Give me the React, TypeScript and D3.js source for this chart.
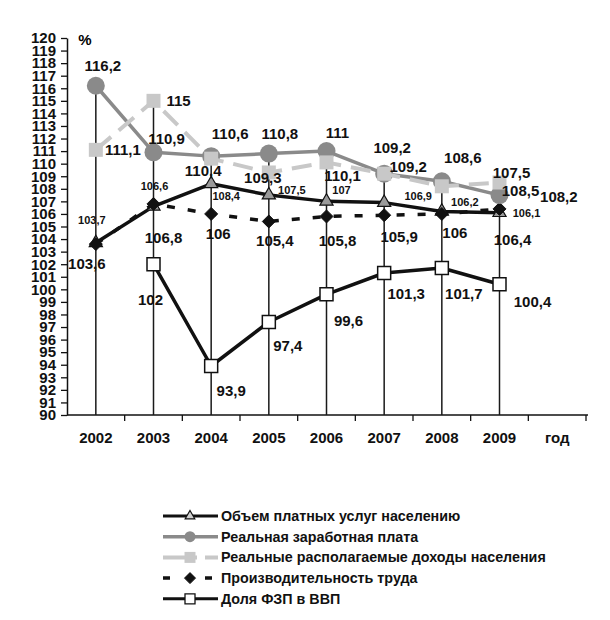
import React, { useEffect, useRef } from 'react';
import * as d3 from 'd3';

// years on the x axis, the last band holds the axis caption
const years = ['2002', '2003', '2004', '2005', '2006', '2007', '2008', '2009'];
const axisCaption = 'год';

const paidServices = [103.7, 106.6, 108.4, 107.5, 107, 106.9, 106.2, 106.1];
const realWages = [116.2, 110.9, 110.6, 110.8, 111, 109.2, 108.6, 107.5];
const realIncomes = [111.1, 115, 110.4, 109.3, 110.1, 109.2, 108.2, 108.5];
const productivity = [103.6, 106.8, 106, 105.4, 105.8, 105.9, 106, 106.4];
const wageShare: (number | null)[] = [null, 102, 93.9, 97.4, 99.6, 101.3, 101.7, 100.4];

const legendNames = [
  'Объем платных услуг населению',
  'Реальная заработная плата',
  'Реальные располагаемые доходы населения',
  'Производительность труда',
  'Доля ФЗП в ВВП',
];

// label offsets from the point (px)
const servicesOff = [[-4, -23], [1, -20], [15, 12], [23, -5], [15, -11], [34, -7], [23, -9], [27, 0]];
const wagesOff = [[7, -20], [13, -14], [19, -23], [11, -20], [11, -19], [8, -26], [21, -24], [12, -23]];
const incomesOff = [[27, 0], [25, 0], [-8, 12], [-6, 5], [16, 13], [24, -7], [117, 10], [21, 8]];
const productivityOff = [[-9, 19], [10, 34], [7, 20], [6, 19], [11, 24], [15, 21], [13, 19], [13, 31]];
const shareOff = [[0, 0], [-3, 35], [20, 25], [19, 23], [22, 26], [22, 21], [22, 26], [33, 17]];

const FONT = 'Arial, "Liberation Sans", sans-serif';

const fmt = (v: number) => String(v).replace('.', ',');

const square = (h: number) => `M${-h},${-h}H${h}V${h}H${-h}Z`;
const diamond = (h: number) => `M0,${-h}L${h},0L0,${h}L${-h},0Z`;

export default function App() {
  const svgRef = useRef<SVGSVGElement>(null);

  useEffect(() => {
    if (!svgRef.current) return;
    const svg = d3.select(svgRef.current);
    svg.selectAll('*').remove();

    const x = d3.scaleBand<string>().domain([...years, axisCaption]).range([67, 586]).padding(0);
    const y = d3.scaleLinear().domain([90, 120]).range([415, 38]);
    const cx = (i: number) => (x(years[i]) as number) + x.bandwidth() / 2;

    svg.append('rect').attr('width', 610).attr('height', 620).attr('fill', '#fff');

    // y axis
    const yAxis = svg.append('g')
      .attr('transform', 'translate(67,0)')
      .call(d3.axisLeft(y).tickValues(d3.range(90, 121)).tickSize(6).tickPadding(5).tickSizeOuter(0));
    yAxis.select('.domain').attr('stroke', '#111').attr('stroke-width', 1.5);
    yAxis.selectAll('.tick line').attr('stroke', '#111').attr('stroke-width', 1.3);
    yAxis.selectAll('.tick text')
      .attr('font-family', FONT).attr('font-size', 15).attr('font-weight', 'bold').attr('fill', '#111');

    svg.append('text').attr('x', 85).attr('y', 45).attr('text-anchor', 'middle')
      .attr('font-family', FONT).attr('font-size', 15).attr('font-weight', 'bold').text('%');

    // x axis
    svg.append('line').attr('x1', 67).attr('x2', 588).attr('y1', 415).attr('y2', 415)
      .attr('stroke', '#111').attr('stroke-width', 1.5);
    x.domain().forEach((d) => {
      const bx = (x(d) as number) + x.bandwidth();
      svg.append('line').attr('x1', bx).attr('x2', bx).attr('y1', 415).attr('y2', 421)
        .attr('stroke', '#111').attr('stroke-width', 1.3);
      svg.append('text').attr('x', bx - x.bandwidth() / 2).attr('y', 443).attr('text-anchor', 'middle')
        .attr('font-family', FONT).attr('font-size', 15).attr('font-weight', 'bold').attr('fill', '#111')
        .text(d);
    });

    // drop lines
    years.forEach((_, i) => {
      const top = d3.max([paidServices[i], realWages[i], realIncomes[i], productivity[i], wageShare[i] ?? 0]) as number;
      svg.append('line').attr('x1', cx(i)).attr('x2', cx(i)).attr('y1', y(top)).attr('y2', 415)
        .attr('stroke', '#1a1a1a').attr('stroke-width', 1.5);
    });

    const line = d3.line<number | null>()
      .defined((d) => d != null)
      .x((_, i) => cx(i))
      .y((d) => y(d as number));

    const drawLine = (vals: (number | null)[], color: string, width: number, dash?: string) => {
      svg.append('path').datum(vals).attr('d', line as any).attr('fill', 'none')
        .attr('stroke', color).attr('stroke-width', width)
        .attr('stroke-dasharray', dash || null).attr('stroke-linejoin', 'round');
    };

    const sym = (type: d3.SymbolType, size: number) => d3.symbol().type(type).size(size)() as string;

    const drawMarks = (vals: (number | null)[], path: string, fill: string, stroke: string, sw: number) => {
      vals.forEach((v, i) => {
        if (v == null) return;
        svg.append('path').attr('d', path).attr('transform', `translate(${cx(i)},${y(v)})`)
          .attr('fill', fill).attr('stroke', stroke).attr('stroke-width', sw);
      });
    };

    const drawLabels = (vals: (number | null)[], off: number[][], size: number) => {
      vals.forEach((v, i) => {
        if (v == null) return;
        svg.append('text').attr('x', cx(i) + off[i][0]).attr('y', y(v) + off[i][1])
          .attr('text-anchor', 'middle').attr('dominant-baseline', 'central')
          .attr('font-family', FONT).attr('font-size', size).attr('font-weight', 'bold').attr('fill', '#111')
          .text(fmt(v));
      });
    };

    // Доля ФЗП в ВВП
    drawLine(wageShare, '#111', 3.5);
    drawMarks(wageShare, square(6.5), '#fff', '#111', 1.5);

    // Объем платных услуг
    drawLine(paidServices, '#111', 3.5);
    drawMarks(paidServices, sym(d3.symbolTriangle, 75), '#9a9a9a', '#111', 1.2);

    // Производительность труда
    drawLine(productivity, '#111', 3.5, '8 13');
    drawMarks(productivity, diamond(6.5), '#111', '#111', 1);

    // Реальная заработная плата
    drawLine(realWages, '#8a8a8a', 3.5);
    drawMarks(realWages, sym(d3.symbolCircle, Math.PI * 81), '#8a8a8a', 'none', 0);

    // Реальные располагаемые доходы
    drawLine(realIncomes, '#c8c8c8', 4, '20 10');
    drawMarks(realIncomes, square(7), '#c8c8c8', 'none', 0);

    drawLabels(realWages, wagesOff, 15);
    drawLabels(realIncomes, incomesOff, 15);
    drawLabels(productivity, productivityOff, 15);
    drawLabels(wageShare, shareOff, 15);
    drawLabels(paidServices, servicesOff, 11);

    // legend
    const lg = svg.append('g');
    const ly = (i: number) => 516 + i * 20.7;
    const lx1 = 163, lx2 = 218, mx = 190;
    const legendStyle = [
      { color: '#111', w: 3, dash: null as string | null },
      { color: '#8a8a8a', w: 3.5, dash: null },
      { color: '#c8c8c8', w: 4, dash: '34 8 13' },
      { color: '#111', w: 3.5, dash: '7 35 7' },
      { color: '#111', w: 3, dash: null },
    ];
    legendNames.forEach((name, i) => {
      const s = legendStyle[i];
      lg.append('line').attr('x1', lx1).attr('x2', lx2).attr('y1', ly(i)).attr('y2', ly(i))
        .attr('stroke', s.color).attr('stroke-width', s.w).attr('stroke-dasharray', s.dash);
      lg.append('text').attr('x', 221).attr('y', ly(i)).attr('dominant-baseline', 'central')
        .attr('font-family', FONT).attr('font-size', 14.3).attr('font-weight', 'bold').attr('fill', '#111')
        .text(name);
    });
    const lm = (i: number, d: string, fill: string, stroke: string, sw: number) =>
      lg.append('path').attr('d', d).attr('transform', `translate(${mx},${ly(i)})`)
        .attr('fill', fill).attr('stroke', stroke).attr('stroke-width', sw);
    lm(0, sym(d3.symbolTriangle, 40), '#d0d0d0', '#111', 1.2);
    lm(1, sym(d3.symbolCircle, Math.PI * 30), '#8a8a8a', 'none', 0);
    lm(2, square(5.5), '#c8c8c8', 'none', 0);
    lm(3, diamond(5.5), '#111', '#111', 1);
    lm(4, square(5), '#fff', '#111', 1.3);
  }, []);

  return (
    <svg ref={svgRef} width={610} height={620}
      style={{ position: 'absolute', left: 0, top: 0, display: 'block' }} />
  );
}
